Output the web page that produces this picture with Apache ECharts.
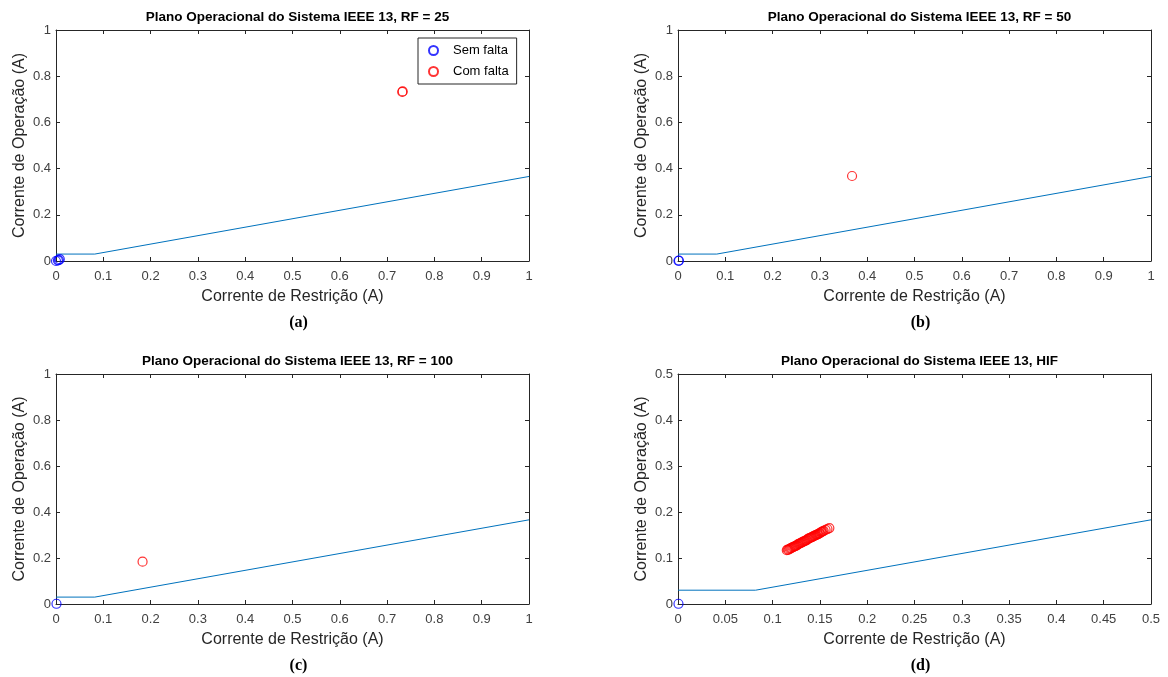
<!DOCTYPE html>
<html><head><meta charset="utf-8">
<script src="https://cdn.jsdelivr.net/npm/echarts@6/dist/echarts.min.js"></script>
<style>html,body{margin:0;padding:0;background:#fff}#c{width:1168px;height:677px}</style>
</head><body><div id="c"></div>
<script>
// ---- data ----
const titles = [
  'Plano Operacional do Sistema IEEE 13, RF = 25',
  'Plano Operacional do Sistema IEEE 13, RF = 50',
  'Plano Operacional do Sistema IEEE 13, RF = 100',
  'Plano Operacional do Sistema IEEE 13, HIF'
];
const subLabels = ['(a)', '(b)', '(c)', '(d)'];
const xAxisName = 'Corrente de Restrição (A)';
const yAxisName = 'Corrente de Operação (A)';
const legendNames = ['Sem falta', 'Com falta'];
const axisMax = [1, 1, 1, 0.5];
const xInterval = [0.1, 0.1, 0.1, 0.05];
const yInterval = [0.2, 0.2, 0.2, 0.1];

// characteristic (threshold) line
const charLineFull = [[0, 0.03], [0.082, 0.03], [1, 0.366]];
const charLineHIF = [[0, 0.03], [0.082, 0.03], [0.5, 0.183]];

// no-fault (blue) points
const semFaltaA = [[0, 0], [0.004, 0.003], [0.008, 0.008], [0.006, 0.004]];
const semFaltaB = [[0.001, 0.001], [0.002, 0.002]];
const semFaltaC = [[0.001, 0.001]];
const semFaltaD = [[0.0005, 0.0005]];

// fault (red) points
const comFaltaA = [[0.732, 0.732], [0.733, 0.734]];
const comFaltaB = [[0.368, 0.368]];
const comFaltaC = [[0.183, 0.184]];
const comFaltaD = [
  [0.115, 0.117], [0.116, 0.118], [0.117, 0.118], [0.118, 0.120], [0.119, 0.121],
  [0.120, 0.122], [0.121, 0.123], [0.122, 0.124], [0.123, 0.125], [0.124, 0.126],
  [0.125, 0.127], [0.126, 0.128], [0.127, 0.130], [0.128, 0.131], [0.129, 0.132],
  [0.130, 0.133], [0.131, 0.134], [0.132, 0.135], [0.133, 0.136], [0.134, 0.137],
  [0.135, 0.138], [0.136, 0.139], [0.137, 0.141], [0.138, 0.142], [0.139, 0.143],
  [0.140, 0.144], [0.141, 0.145], [0.142, 0.146], [0.143, 0.147], [0.144, 0.148],
  [0.145, 0.149], [0.146, 0.150], [0.147, 0.151], [0.148, 0.152], [0.149, 0.153],
  [0.150, 0.154], [0.151, 0.156], [0.152, 0.157], [0.153, 0.158], [0.154, 0.159],
  [0.156, 0.161], [0.158, 0.163], [0.160, 0.165]
];

const semFalta = [semFaltaA, semFaltaB, semFaltaC, semFaltaD];
const comFalta = [comFaltaA, comFaltaB, comFaltaC, comFaltaD];
const charLines = [charLineFull, charLineFull, charLineFull, charLineHIF];

// ---- layout ----
const grids = [
  {left: 56, top: 30, width: 473, height: 231},
  {left: 678, top: 30, width: 473, height: 231},
  {left: 56, top: 374, width: 473, height: 230},
  {left: 678, top: 374, width: 473, height: 230}
];
const axisColor = '#262626';
const labelFont = {fontFamily: 'Liberation Sans', fontSize: 13, color: '#404040'};

const option = {
  animation: false,
  backgroundColor: '#fff',
  grid: grids.map(g => Object.assign({containLabel: false, show: false}, g)),
  title: [],
  xAxis: [], yAxis: [], series: [],
  legend: {
    data: legendNames.map(n => ({name: n, icon: 'circle'})),
    orient: 'vertical', left: 418, top: 38,
    itemWidth: 9, itemHeight: 9, itemGap: 8,
    padding: [6, 8, 6, 10],
    borderColor: '#262626', borderWidth: 1, backgroundColor: '#fff',
    textStyle: {fontFamily: 'Liberation Sans', fontSize: 13, color: '#000', padding: [0, 0, 0, 10]},
    selectedMode: false
  }
};

for (let i = 0; i < 4; i++) {
  const g = grids[i];
  option.title.push({
    text: titles[i], left: g.left + g.width / 2, top: g.top - 25, textAlign: 'center',
    textStyle: {fontFamily: 'Liberation Sans', fontSize: 13.5, fontWeight: 'bold', color: '#000'}
  });
  option.title.push({
    text: subLabels[i], left: g.left + g.width / 2 + 1, top: g.top + g.height + 49, textAlign: 'center',
    textStyle: {fontFamily: 'Liberation Serif', fontSize: 16, fontWeight: 'bold', color: '#000'}
  });
  const common = {min: 0, max: axisMax[i], type: 'value', gridIndex: i};
  option.xAxis.push(Object.assign({}, common, {
    interval: xInterval[i], position: 'bottom',
    name: xAxisName, nameLocation: 'middle', nameGap: 28,
    nameTextStyle: {fontFamily: 'Liberation Sans', fontSize: 16, color: axisColor},
    axisLine: {show: true, onZero: false, lineStyle: {color: axisColor, width: 1}},
    axisTick: {show: true, inside: true, length: 4, lineStyle: {color: axisColor}},
    axisLabel: Object.assign({margin: 9}, labelFont),
    splitLine: {show: false}
  }));
  option.xAxis.push(Object.assign({}, common, {
    interval: xInterval[i], position: 'top',
    axisLine: {show: true, onZero: false, lineStyle: {color: axisColor, width: 1}},
    axisTick: {show: true, inside: true, length: 4, lineStyle: {color: axisColor}},
    axisLabel: {show: false}, splitLine: {show: false}
  }));
  option.yAxis.push(Object.assign({}, common, {
    interval: yInterval[i], position: 'left',
    name: yAxisName, nameLocation: 'middle', nameGap: 28, nameRotate: 90,
    nameTextStyle: {fontFamily: 'Liberation Sans', fontSize: 16, color: axisColor},
    axisLine: {show: true, onZero: false, lineStyle: {color: axisColor, width: 1}},
    axisTick: {show: true, inside: true, length: 4, lineStyle: {color: axisColor}},
    axisLabel: Object.assign({margin: 5}, labelFont),
    splitLine: {show: false}
  }));
  option.yAxis.push(Object.assign({}, common, {
    interval: yInterval[i], position: 'right',
    axisLine: {show: true, onZero: false, lineStyle: {color: axisColor, width: 1}},
    axisTick: {show: true, inside: true, length: 4, lineStyle: {color: axisColor}},
    axisLabel: {show: false}, splitLine: {show: false}
  }));
  option.series.push({
    type: 'line', xAxisIndex: 2 * i, yAxisIndex: 2 * i, data: charLines[i],
    symbol: 'none', lineStyle: {color: '#0072BD', width: 1}, z: 2
  });
  option.series.push({
    type: 'scatter', name: legendNames[0], xAxisIndex: 2 * i, yAxisIndex: 2 * i,
    data: semFalta[i], symbol: 'circle', symbolSize: 9,
    itemStyle: {color: 'rgba(255,255,255,0)', borderColor: '#0000FF', borderWidth: 1.2}, z: 3
  });
  option.series.push({
    type: 'scatter', name: legendNames[1], xAxisIndex: 2 * i, yAxisIndex: 2 * i,
    data: comFalta[i], symbol: 'circle', symbolSize: 9,
    itemStyle: {color: 'rgba(255,255,255,0)', borderColor: '#FF0000', borderWidth: 1.2}, z: 3
  });
}

const chart = echarts.init(document.getElementById('c'), null, {renderer: 'canvas'});
chart.setOption(option);
</script>
</body></html>
